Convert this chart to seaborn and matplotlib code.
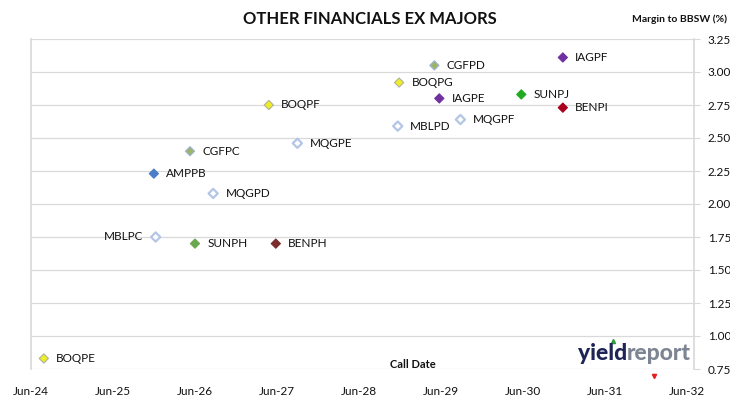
import matplotlib
matplotlib.use("Agg")
import matplotlib.pyplot as plt
import matplotlib.dates as mdates
from matplotlib.lines import Line2D
import seaborn as sns
import pandas as pd

# ---- data ----
codes = ["BOQPE", "MBLPC", "SUNPH", "BENPH", "AMPPB", "CGFPC", "MQGPD", "BOQPF",
         "MQGPE", "MBLPD", "BOQPG", "CGFPD", "IAGPE", "MQGPF", "SUNPJ", "IAGPF", "BENPI"]
call_dates = ["2024-07-28", "2025-12-08", "2026-06-01", "2027-05-27", "2025-11-30",
              "2026-05-10", "2026-08-21", "2027-04-26", "2027-08-31", "2028-11-20",
              "2028-11-26", "2029-05-02", "2029-05-24", "2029-08-26", "2030-05-24",
              "2030-11-25", "2030-11-25"]
margins = [0.83, 1.75, 1.70, 1.70, 2.23, 2.40, 2.08, 2.75,
           2.46, 2.59, 2.92, 3.05, 2.80, 2.64, 2.83, 3.11, 2.73]
label_side = ["r", "l", "r", "r", "r", "r", "r", "r",
              "r", "r", "r", "r", "r", "r", "r", "r", "r"]
x_tick_labels = ["Jun-24", "Jun-25", "Jun-26", "Jun-27", "Jun-28",
                 "Jun-29", "Jun-30", "Jun-31", "Jun-32"]
y_ticks = [0.75, 1.00, 1.25, 1.50, 1.75, 2.00, 2.25, 2.50, 2.75, 3.00, 3.25]

face_colors = {
    "BOQPE": "#EEEE22", "BOQPF": "#EEEE22", "BOQPG": "#EEEE22",
    "MBLPC": "#FFFFFF", "MBLPD": "#FFFFFF",
    "MQGPD": "#FFFFFF", "MQGPE": "#FFFFFF", "MQGPF": "#FFFFFF",
    "SUNPH": "#6AA84F", "SUNPJ": "#1FAA1F",
    "BENPH": "#7A2E2E", "BENPI": "#A8001C",
    "AMPPB": "#4A7EC8",
    "CGFPC": "#9CB36A", "CGFPD": "#9CB36A",
    "IAGPE": "#7030A0", "IAGPF": "#7030A0",
}
edge_colors = {
    "BOQPE": "#B0B0A0", "BOQPF": "#B0B0A0", "BOQPG": "#B0B0A0",
    "MBLPC": "#B4C6E6", "MBLPD": "#B4C6E6",
    "MQGPD": "#B4C6E6", "MQGPE": "#B4C6E6", "MQGPF": "#B4C6E6",
    "SUNPH": "#6AA84F", "SUNPJ": "#1FAA1F",
    "BENPH": "#7A2E2E", "BENPI": "#A8001C",
    "AMPPB": "#4A7EC8",
    "CGFPC": "#9FB3D6", "CGFPD": "#9FB3D6",
    "IAGPE": "#7030A0", "IAGPF": "#7030A0",
}

df = pd.DataFrame({"code": codes, "date": pd.to_datetime(call_dates), "margin": margins})

sns.set_theme(style="white")
plt.rcParams["font.family"] = ["Lato", "DejaVu Sans"]

fig = plt.figure(figsize=(7.30, 3.99), dpi=100)
ax = fig.add_axes([31 / 730, 1 - 369 / 399, (694 - 31) / 730, (369 - 39) / 399])

sns.scatterplot(data=df, x="date", y="margin", hue="code", palette=face_colors,
                marker="D", s=22, legend=False, ax=ax, zorder=3)
coll = ax.collections[0]
coll.set_edgecolors([edge_colors[c] for c in df["code"]])
coll.set_linewidths([1.6 if face_colors[c] == "#FFFFFF" else 0.8 for c in df["code"]])

for c, d, m, side in zip(df["code"], df["date"], df["margin"], label_side):
    if side == "r":
        ax.annotate(c, (mdates.date2num(d), m), xytext=(9, 0), textcoords="offset points",
                    ha="left", va="center", fontsize=8.5, color="#111111")
    else:
        ax.annotate(c, (mdates.date2num(d), m), xytext=(-9, 0), textcoords="offset points",
                    ha="right", va="center", fontsize=8.5, color="#111111")

# axes
ax.set_xlim(pd.Timestamp("2024-06-01"), pd.Timestamp("2032-07-01"))
ax.set_ylim(0.75, 3.25)
xt = pd.to_datetime([f"20{l[-2:]}-06-01" for l in x_tick_labels])
ax.set_xticks(xt)
ax.set_xticklabels(x_tick_labels, fontsize=8.5, color="#111111")
ax.tick_params(axis="x", length=0, pad=12)
ax.yaxis.tick_right()
ax.set_yticks(y_ticks)
ax.set_yticklabels([f"{v:.2f}" for v in y_ticks], fontsize=8.5, color="#111111")
ax.tick_params(axis="y", right=True, length=4, width=0.8, color="#D9D9D9", pad=6)
ax.grid(axis="y", color="#D9D9D9", linewidth=0.9)
ax.grid(axis="x", visible=False)
for s in ["top", "bottom"]:
    ax.spines[s].set_visible(False)
ax.spines["left"].set_color("#D9D9D9")
ax.spines["right"].set_color("#D9D9D9")
ax.set_xlabel("")
ax.set_ylabel("")

fig.text(370 / 730, 1 - 19 / 399, "OTHER FINANCIALS EX MAJORS", ha="center", va="center",
         fontsize=12, fontweight="bold", color="#111111")
fig.text(727 / 730, 1 - 19 / 399, "Margin to BBSW (%)", ha="right", va="center",
         fontsize=7.5, fontweight="bold", color="#111111")
fig.text(413 / 730, 1 - 364 / 399, "Call Date", ha="center", va="center",
         fontsize=8, fontweight="bold", color="#111111")

# logo text
t1 = fig.text(578 / 730, 1 - 353 / 399, "yield", ha="left", va="center",
              fontsize=16.5, fontweight="black", color="#1E2456")
fig.canvas.draw()
bb = t1.get_window_extent()
fig.text(bb.x1 / 730, 1 - 353 / 399, "report", ha="left", va="center",
         fontsize=16.5, fontweight="black", color="#7D8593")
# little logo accents (drawn as markers, not text)
fig.add_artist(Line2D([613 / 730], [1 - 341 / 399], transform=fig.transFigure,
                      marker="^", markersize=3, color="#2E9E3E", linestyle="none"))
fig.add_artist(Line2D([654 / 730], [1 - 376 / 399], transform=fig.transFigure,
                      marker="v", markersize=3, color="#E02020", linestyle="none"))

fig.savefig("out.png", dpi=100)
